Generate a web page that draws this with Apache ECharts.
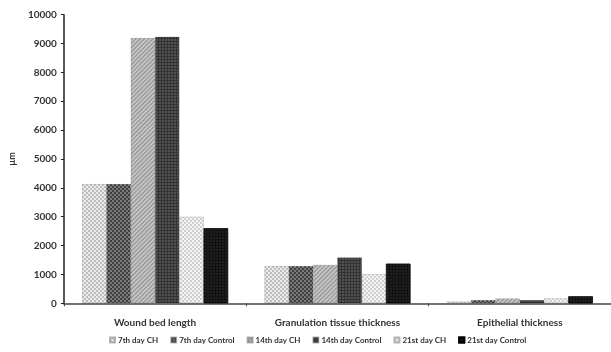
<!DOCTYPE html>
<html><head><meta charset="utf-8">
<script src="https://cdn.jsdelivr.net/npm/echarts@6/dist/echarts.min.js"></script>
<style>html,body{margin:0;padding:0;background:#fff}#c{width:611px;height:352px}</style>
</head><body><div id="c"></div>
<script>
var categories = ['Wound bed length', 'Granulation tissue thickness', 'Epithelial thickness'];
var seriesNames = ['7th day CH', '7th day Control', '14th day CH', '14th day Control', '21st day CH', '21st day Control'];
var day7CH = [4130, 1290, 60];
var day7Control = [4130, 1290, 110];
var day14CH = [9190, 1330, 165];
var day14Control = [9240, 1590, 110];
var day21CH = [3000, 1010, 170];
var day21Control = [2600, 1370, 240];
var yTicks = [0, 10000, 1000];

var values = [day7CH, day7Control, day14CH, day14Control, day21CH, day21Control];
var styles = [
  {color: '#ececec', decal: {symbol: 'rect', symbolSize: 0.9, color: '#b8b8b8', dashArrayX: [[2, 2], [0, 2, 2, 0]], dashArrayY: [2, 0], rotation: 0}},
  {color: '#7a7a7a', decal: {symbol: 'rect', symbolSize: 0.9, color: '#3a3a3a', dashArrayX: [[2, 2], [0, 2, 2, 0]], dashArrayY: [2, 0], rotation: 0}},
  {color: '#c4c4c4', decal: {symbol: 'rect', symbolSize: 1, color: '#8e8e8e', dashArrayX: [1, 0], dashArrayY: [1, 2], rotation: -0.785}},
  {color: '#333333', decal: {symbol: 'rect', symbolSize: 0.9, color: '#555555', dashArrayX: [[2, 1]], dashArrayY: [2, 1], rotation: 0}},
  {color: '#f4f4f4', decal: {symbol: 'circle', symbolSize: 0.9, color: '#bdbdbd', dashArrayX: [[2, 2], [0, 2, 2, 0]], dashArrayY: [2, 0], rotation: 0}},
  {color: '#111111', decal: {symbol: 'rect', symbolSize: 0.9, color: '#222222', dashArrayX: [[2, 1]], dashArrayY: [2, 1], rotation: 0}}
];

var series = seriesNames.map(function (n, i) {
  return {
    name: n, type: 'bar', data: values[i], barGap: '0%', barCategoryGap: '20%',
    itemStyle: {color: styles[i].color, decal: styles[i].decal, borderColor: i === 5 ? '#000' : 'rgba(0,0,0,0.15)', borderWidth: 0.5}
  };
});

var chart = echarts.init(document.getElementById('c'));
chart.setOption({
  animation: false,
  aria: {enabled: true, decal: {show: false}},
  grid: {left: 61, right: 0, top: 14.7, bottom: 48.7, containLabel: false},
  legend: {
    bottom: 3, left: 104, itemWidth: 5, itemHeight: 5, itemGap: 12, icon: 'rect',
    textStyle: {fontFamily: 'Lato', fontWeight: 'bold', fontSize: 8, color: '#333', padding: [0, 0, 0, -2]},
    data: seriesNames
  },
  xAxis: {
    type: 'category', data: categories,
    axisLine: {lineStyle: {color: '#444', width: 1.5}},
    axisTick: {show: true, length: 3, lineStyle: {color: '#444'}},
    axisLabel: {margin: 14, fontFamily: 'Lato', fontWeight: 'bold', fontSize: 10, color: '#333'}
  },
  yAxis: {
    type: 'value', min: yTicks[0], max: yTicks[1], interval: yTicks[2],
    name: 'µm', nameLocation: 'middle', nameGap: 44, nameRotate: 90,
    nameTextStyle: {fontFamily: 'Lato', fontWeight: 'bold', fontSize: 9, color: '#333'},
    axisLine: {show: true, lineStyle: {color: '#222', width: 1.5}},
    axisTick: {show: true, length: 3, lineStyle: {color: '#222'}},
    splitLine: {show: false},
    axisLabel: {margin: 7, fontFamily: 'Lato', fontWeight: 'bold', fontSize: 10, color: '#333', formatter: function (v) { return String(v); }}
  },
  series: series
});
</script>
</body></html>
